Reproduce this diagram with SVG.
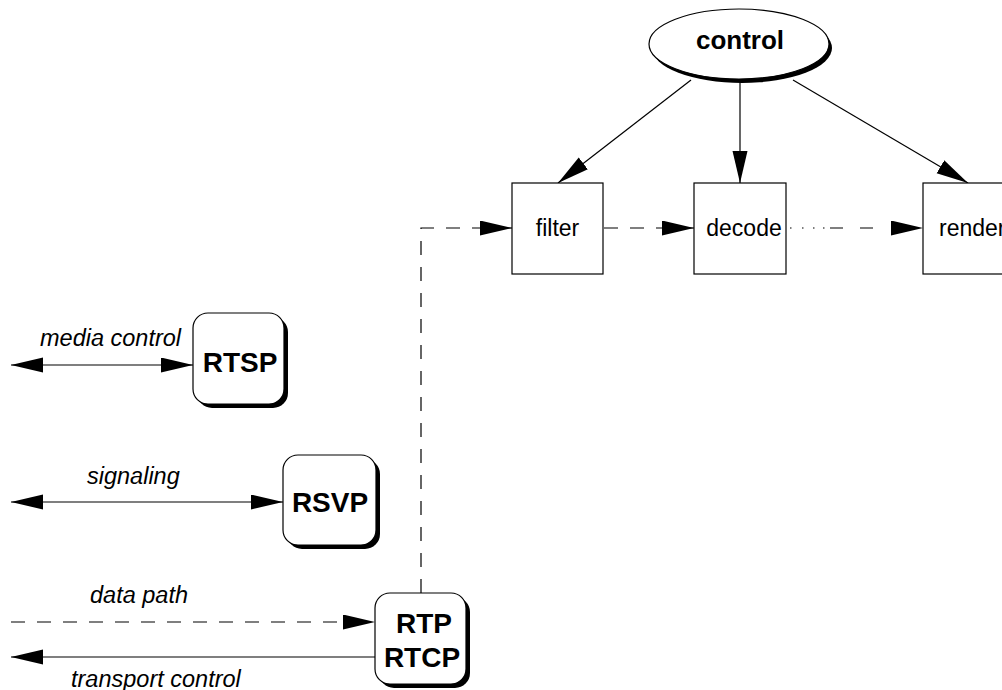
<svg xmlns="http://www.w3.org/2000/svg" width="1002" height="690" viewBox="0 0 1002 690">
<style>
.ln{fill:none;stroke:#000;stroke-width:1.2}
.dash{stroke-dasharray:14 12}
.box{fill:#fff;stroke:#000;stroke-width:1.2}
.sh{fill:#000}
.lbl{font-family:"Liberation Sans",Arial,sans-serif;font-size:23px;fill:#000}
.bold{font-family:"Liberation Sans",Arial,sans-serif;font-size:28px;font-weight:bold;fill:#000}
.it{font-family:"Liberation Sans",Arial,sans-serif;font-size:23.5px;font-style:italic;fill:#000}
</style>
<defs>
<marker id="ah" markerUnits="userSpaceOnUse" markerWidth="34" markerHeight="16" refX="32" refY="7.5" orient="auto-start-reverse" viewBox="0 0 34 16">
<path d="M0,0 L32,7.5 L0,15 z" fill="#000"/>
</marker>
</defs>
<g id="connectors">
<line class="ln" x1="691" y1="80" x2="558" y2="183" marker-end="url(#ah)"/>
<line class="ln" x1="740" y1="80" x2="740" y2="183" marker-end="url(#ah)"/>
<line class="ln" x1="793" y1="80" x2="968" y2="183" marker-end="url(#ah)"/>
<path class="ln dash" d="M421,593 V228 H512" marker-end="url(#ah)"/>
<line class="ln dash" x1="604" y1="228" x2="694" y2="228" marker-end="url(#ah)"/>
<line class="ln" style="stroke-dasharray:0 4 1.5 10.5 1.5 9.5 1.5 8.5 1.5 5.5 13 17 13 200" x1="786" y1="228" x2="923" y2="228" marker-end="url(#ah)"/>
<line class="ln" x1="11" y1="365" x2="193" y2="365" marker-start="url(#ah)" marker-end="url(#ah)"/>
<line class="ln" x1="11" y1="502" x2="283" y2="502" marker-start="url(#ah)" marker-end="url(#ah)"/>
<line class="ln dash" x1="11" y1="622" x2="375" y2="622" marker-end="url(#ah)"/>
<line class="ln" x1="375" y1="657" x2="11" y2="657" marker-end="url(#ah)"/>
<text class="it" x="40" y="346">media control</text>
<text class="it" x="87" y="484">signaling</text>
<text class="it" x="90" y="603">data path</text>
<text class="it" x="71" y="687">transport control</text>
</g>
<g id="control">
<ellipse class="sh" cx="742" cy="48" rx="90" ry="35"/>
<ellipse class="box" cx="739" cy="44" rx="90" ry="35"/>
<text class="bold" style="font-size:26px" x="740" y="49" text-anchor="middle">control</text>
</g>
<g id="filter">
<rect class="box" x="512" y="183" width="91" height="91"/>
<text class="lbl" x="557.5" y="236" text-anchor="middle">filter</text>
</g>
<g id="decode">
<rect class="box" x="694" y="183" width="92" height="91"/>
<text class="lbl" x="744" y="236" text-anchor="middle">decode</text>
</g>
<g id="render">
<rect class="box" x="923" y="183" width="91" height="91"/>
<text class="lbl" x="939" y="236">render</text>
</g>
<g id="rtsp">
<rect class="sh" x="197" y="317" width="91" height="91" rx="15"/>
<rect class="box" x="193" y="313" width="91" height="91" rx="15"/>
<text class="bold" x="240" y="372" text-anchor="middle">RTSP</text>
</g>
<g id="rsvp">
<rect class="sh" x="287" y="459" width="93" height="90" rx="15"/>
<rect class="box" x="283" y="455" width="93" height="90" rx="15"/>
<text class="bold" x="330" y="512" text-anchor="middle">RSVP</text>
</g>
<g id="rtp">
<rect class="sh" x="379" y="597" width="91" height="91" rx="15"/>
<rect class="box" x="375" y="593" width="91" height="91" rx="15"/>
<text class="bold" x="424" y="633" text-anchor="middle">RTP</text>
<text class="bold" x="422" y="667" text-anchor="middle">RTCP</text>
</g>
</svg>
